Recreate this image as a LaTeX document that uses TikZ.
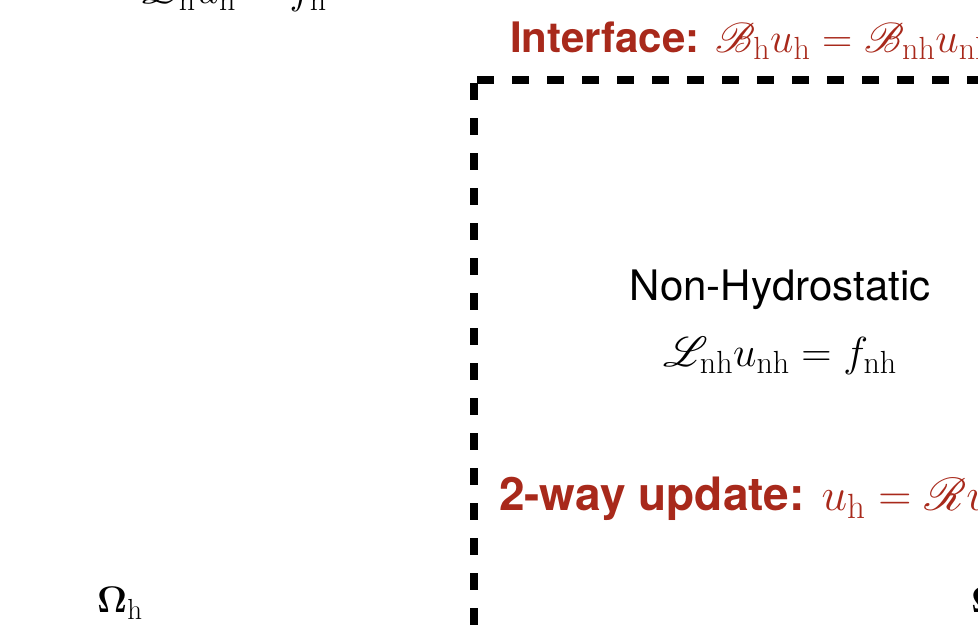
\RequirePackage{fix-cm}
\documentclass[tikz,border=0pt]{standalone}
\usepackage{fontspec}
\usepackage{amsmath,amssymb,bm}
\usepackage{mathrsfs}
% scalable script capitals
\DeclareFontFamily{U}{rsfs}{\skewchar\font127 }
\DeclareFontShape{U}{rsfs}{m}{n}{<-6> rsfs5 <6-8> rsfs7 <8-> rsfs10}{}
% larger subscripts at the display sizes used below
\DeclareMathSizes{37}{37}{29}{22}
\DeclareMathSizes{42}{42}{32}{24}
\DeclareMathSizes{46}{46}{35}{26}
\newfontfamily\heros{TeX Gyre Heros}
\definecolor{ifred}{HTML}{A8291B}
\newcommand{\fsz}[1]{\fontsize{#1}{#1}\selectfont}
\begin{document}
\begin{tikzpicture}[x=1pt,y=-1pt,
  lbl/.style={inner sep=0pt, outer sep=0pt, anchor=base west},
  redlabel/.style={lbl, text=ifred, font=\heros\bfseries\fsz{42}},
  bodytext/.style={inner sep=0pt, anchor=base, font=\heros\fsz{42}},
  eqtext/.style={inner sep=0pt, font=\fsz{42}},
  domtext/.style={inner sep=0pt, anchor=base west, font=\fsz{37}},
  frame/.style={line width=8pt, dash pattern=on 17pt off 18pt}]
\useasboundingbox (0,0) rectangle (978,629);
\clip (0,0) rectangle (978,629);

% equation of the hydrostatic domain (upper left)
\node[eqtext, anchor=base west] (heq) at (142,3) {$\mathscr{L}_{\mathrm{h}}u_{\mathrm{h}} = f_{\mathrm{h}}$};

% dashed boundary of the non-hydrostatic subdomain
\coordinate (corner) at (474,80);
\draw[frame] ([xshift=3pt]corner) -- (1200,80);
\draw[frame] ([yshift=-3pt]corner) -- (474,900);

% interface condition
\node[redlabel] (iface) at (510,52)
  {Interface: $\mathscr{B}_{\mathrm{h}}u_{\mathrm{h}} = \mathscr{B}_{\mathrm{nh}}u_{\mathrm{nh}}$};

% non-hydrostatic model
\node[bodytext] (nhtitle) at (780,300) {Non-Hydrostatic};
\node[eqtext, anchor=base] (nheq) at (780,366) {$\mathscr{L}_{\mathrm{nh}}u_{\mathrm{nh}} = f_{\mathrm{nh}}$};

% two-way update
\node[redlabel, font=\heros\bfseries\fsz{46}] (update) at (499,510)
  {2-way update: $u_{\mathrm{h}} = \mathscr{R}u_{\mathrm{nh}}$};

% domain labels
\node[domtext] (omh) at (97,612) {$\boldsymbol{\Omega}_{\mathrm{h}}$};
\node[domtext] (omnh) at (971,612) {$\boldsymbol{\Omega}_{\mathrm{nh}}$};
\end{tikzpicture}
\end{document}
